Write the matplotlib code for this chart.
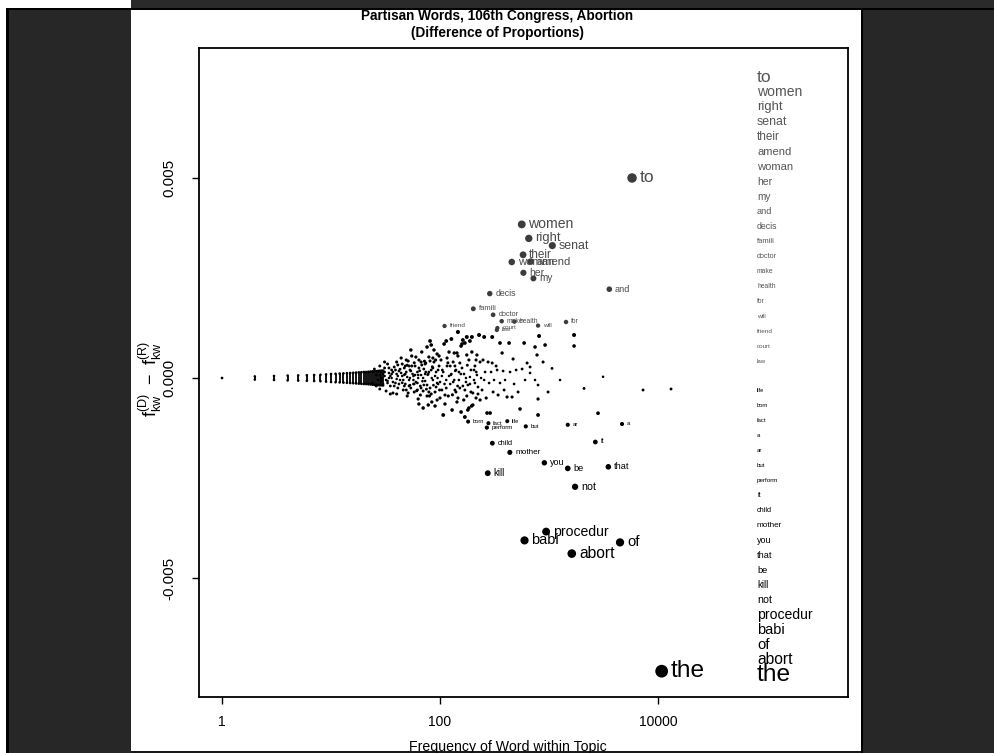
import numpy as np
import matplotlib
matplotlib.use('Agg')
import matplotlib.pyplot as plt
from matplotlib.patches import Rectangle
from matplotlib.ticker import NullLocator

# words leaning Democratic (f_D - f_R > 0), labelled
dem_words = ['to', 'women', 'right', 'senat', 'their', 'amend', 'woman', 'her', 'my', 'and',
             'decis', 'famili', 'doctor', 'make', 'health', 'for', 'will', 'friend', 'court', 'law']
dem_freq = [5774, 562, 652, 1072, 578, 680, 455, 582, 719, 3574,
            286, 202, 307, 368, 481, 1432, 793, 110, 336, 332]
dem_diff = [0.00500, 0.00384, 0.00349, 0.00331, 0.00308, 0.00291, 0.00290, 0.00263, 0.00249, 0.00222,
            0.00211, 0.00173, 0.00158, 0.00142, 0.00141, 0.00140, 0.00131, 0.00130, 0.00125, 0.00120]

# words leaning Republican, labelled
rep_words = ['life', 'born', 'fact', 'a', 'ar', 'but', 'perform', 'it', 'child', 'mother',
             'you', 'that', 'be', 'kill', 'not', 'procedur', 'babi', 'of', 'abort', 'the']
rep_freq = [414, 181, 278, 4674, 1485, 612, 269, 2659, 302, 437,
            906, 3500, 1485, 274, 1733, 940, 596, 4480, 1617, 10800]
rep_diff = [-0.00108, -0.00109, -0.00113, -0.00115, -0.00117, -0.00121, -0.00124, -0.00160, -0.00163, -0.00186,
            -0.00212, -0.00222, -0.00226, -0.00238, -0.00272, -0.00384, -0.00406, -0.00411, -0.00439, -0.00733]

# rare words: for each count, range of observed differences
bar_freq = list(range(1, 31))
bar_lo = [0, -4e-5, -5e-5, -6e-5, -6.5e-5, -7e-5, -7.5e-5, -8e-5, -9e-5, -1e-4,
          -1.05e-4, -1.1e-4, -1.15e-4, -1.2e-4, -1.25e-4, -1.3e-4, -1.35e-4, -1.4e-4, -1.45e-4, -1.5e-4,
          -1.5e-4, -1.55e-4, -1.6e-4, -1.65e-4, -1.7e-4, -1.7e-4, -1.75e-4, -1.8e-4, -1.8e-4, -1.85e-4]
bar_hi = [0, 4e-5, 5e-5, 6e-5, 6.5e-5, 7e-5, 7.5e-5, 8e-5, 9e-5, 1e-4,
          1.05e-4, 1.1e-4, 1.15e-4, 1.2e-4, 1.25e-4, 1.3e-4, 1.35e-4, 1.4e-4, 1.45e-4, 1.5e-4,
          1.5e-4, 1.55e-4, 1.6e-4, 1.65e-4, 1.7e-4, 1.7e-4, 1.75e-4, 1.8e-4, 1.8e-4, 1.85e-4]

# unlabelled words (frequency, difference)
cloud_freq = [24, 24, 25, 26, 26, 27, 28, 28, 29, 29, 30, 31, 31, 32, 33, 33, 34, 35, 36, 36,
              37, 38, 39, 40, 40, 41, 42, 43, 31, 35, 40, 41,
              28, 29, 31, 33, 34, 36, 37, 39, 40, 42, 44, 46, 48, 50, 52, 54, 57, 59, 62, 64,
              67, 70, 73, 76, 79, 83, 86, 90, 94, 98, 104, 114, 124, 135, 140, 159, 180, 205, 223, 254,
              44, 45, 46, 47, 48, 49, 50, 51, 52, 53, 54, 55, 57, 58, 59, 60, 62, 63, 64, 66,
              67, 68, 70, 71, 73, 74, 76, 78, 79, 81, 83, 84, 86, 88, 90, 92, 94, 96, 98, 100,
              45, 47, 49, 51, 53, 55, 58, 60, 63, 66, 68, 71, 74, 78, 81, 84, 88, 92, 96, 100,
              48, 52, 57, 62, 67, 73, 79, 86, 94, 54, 64, 76, 90, 70, 83,
              102, 104, 107, 109, 111, 114, 116, 119, 121, 124, 127, 129, 132, 135, 137, 140, 143, 146, 146, 149,
              152, 152, 156, 159, 162, 166, 169, 169, 169, 173, 176, 180, 184, 188, 192, 196, 196, 200, 205, 209,
              214, 218, 223, 228, 233, 233,
              111, 116, 121, 132, 137, 143, 149, 162, 176, 184, 192, 209, 218, 107, 127, 156, 200, 214, 173, 188,
              146, 81, 114, 176, 188,
              238, 243, 248, 254, 259, 265, 270, 276, 282, 288, 294, 301, 301, 307, 313, 327, 334, 341, 355, 355,
              371, 379, 387, 395, 412, 430, 439, 458, 468, 478, 499, 520, 542, 566, 591, 603, 629, 670, 670, 744,
              744, 776, 793, 793, 793, 810, 882, 920,
              1065, 1697, 1697, 3130, 2095, 7285, 2815, 13160, 1262, 980,
              30, 32, 34, 35, 37, 38, 41, 43, 45, 47, 49, 50, 53, 56, 58, 61, 63, 65, 69, 72,
              75, 77, 80, 85, 87, 91, 95, 99, 105, 110, 118, 126, 130, 138, 145, 155, 165, 178, 195, 215]
cloud_diff = [0.00015, -0.000125, 0.000225, -0.0002, 0.000075, -0.00005, 0.0003, -0.000275, 0.00015, 0.0,
              -0.00015, 0.00025, 0.00005, -0.000325, 0.00035, -0.000075, 0.000125, -0.0002, 0.0002, 0.0,
              -0.000375, 0.000275, -0.000125, 0.0001, 0.0004, -0.00025, 0.000175, -0.00005, 0.0004, -0.0004,
              -0.0004, 0.000325,
              0.000075, -0.000075, 0.00015, -0.000125, 0.0, 0.0001, -0.0001, 0.0002, -0.000025, -0.00015,
              0.000125, -0.00005, 0.0003, 0.000025, -0.0002, 0.000175, -0.00005, 0.000075, -0.000125, 0.00025,
              -0.00025, 0.0, 0.00035, -0.000175, 0.00015, -0.0004, 0.0005, 0.00005, -0.000125, 0.00055,
              0.00005, -0.00025, 0.0003, -0.00005, -0.00035, 0.00025, -0.000175, 0.0002, -0.0004, -0.00005,
              0.0005, 0.00005, -0.0003, 0.00025, -0.00015, 0.00015, -0.00045, 0.000425, -0.00005, 0.0002,
              -0.00025, 0.00055, 0.00005, -0.00035, 0.0003, -0.0001, 0.00015, -0.000525, 0.00045, -0.0002,
              0.000075, 0.00065, -0.000325, 0.000225, -0.000075, 0.000375, -0.00045, 0.0001, 0.000525, -0.00025,
              0.0002, -0.0006, -0.00005, 0.0004, -0.00035, 0.00015, 0.0006, -0.00015, 0.0003, -0.0005,
              0.00035, -0.0002, 0.00045, -0.000375, 0.0, 0.0003, -0.00015, 0.000525, 0.000075, -0.000425,
              0.000325, -0.000175, 0.00015, -0.000675, 0.000425, 0.0, 0.0007, -0.000225, 0.0002, -0.0001,
              0.0001, 0.0003, -0.00015, -0.0003, 0.0004, 0.0001, -0.00035, 0.00025, -0.00055, 0.0007,
              -0.00065, 0.000775, -0.0007, -0.00075, 0.000825,
              0.00045, -0.0003, 0.00015, 0.00085, -0.00065, -0.00005, 0.0003, -0.00045, 0.00065, -0.00015,
              0.0001, -0.0008, 0.0004, 0.000625, -0.0003, 0.0002, 0.000625, 0.00055, -0.0005, -0.00005,
              0.000375, -0.00025, 0.0008, 0.00085, 0.00095, 0.0001, 0.000875, -0.0003, -0.000975, 0.0,
              -0.00045, -0.0008, 0.00045, -0.00015, 0.0002, 0.00065, 0.001025, -0.000375, -0.00005, 0.0003,
              -0.0005, 0.000075, -0.000225, 0.001075, 0.0004, -0.00055,
              -0.000425, 0.0005, 0.00005, -0.0001, 0.0003, -0.0006, 0.00015, -0.0002, 0.000575, -0.00075,
              -0.00035, -0.000125, 0.000575, -0.000925, 0.000975, -0.00085, -0.000675, 0.00045, -0.0001, 0.000025,
              0.00115, 0.000925, 0.000925, 0.001025, 0.000925,
              0.0, -0.0003, 0.00045, 0.001025, 0.00015, -0.0005, -0.000875, 0.0004, -0.000125, -0.000875,
              0.00015, 0.001025, 0.000375, -0.00035, -0.00005, 0.0003, 0.0002, -0.000425, 0.000875, -0.000125,
              0.000625, 0.000175, -0.0003, -0.00005, -0.000475, 0.000875, 0.00015, -0.000475, 0.000475, -0.00015,
              0.0002, -0.00035, -0.000775, 0.000225, 0.000875, -0.00005, 0.000375, 0.000275, 0.000125, 0.000775,
              -0.00005, 0.000575, -0.000175, -0.000525, -0.000925, 0.00105, 0.0004, 0.000825,
              0.00024, 0.001075, 0.0008, 0.00003, -0.00026, -0.0003, -0.00088, -0.000275, -0.00005, -0.00035,
              0.0001, -0.00005, 0.00025, 0.00005, 0.00015, -0.0002, 0.00005, 0.00022, -0.00012, 0.00008,
              -0.0003, 0.00032, -0.00018, 0.0001, 0.00038, -0.00032, 0.0, 0.00018, -0.00008, 0.00042,
              -0.00028, 0.00008, -0.00045, 0.00028, -0.00018, 0.00045, 0.0, -0.0003, 0.0002, -0.00015,
              0.00038, 0.00008, -0.00042, 0.00018, -0.0002, 0.0001, -0.00055, 0.00032, -0.0007, 0.00015]

plt.rcParams['font.family'] = ['Liberation Sans', 'DejaVu Sans']
plt.rcParams['mathtext.fontset'] = 'custom'
plt.rcParams['mathtext.rm'] = 'Liberation Sans'


def dot_px(d):
    return 1400 * np.abs(np.asarray(d)) + 2.5


def dot_size(d):
    return (dot_px(d) * 0.72) ** 2


def label_pt(d):
    return (3000 * abs(d) + 2.5) * 0.72


W, H = 995, 753
fig = plt.figure(figsize=(W / 100, H / 100), dpi=100)
fig.patch.set_facecolor('white')


def px_rect(x0, y0, x1, y1, color):
    fig.add_artist(Rectangle((x0 / W, 1 - y1 / H), (x1 - x0) / W, (y1 - y0) / H,
                             transform=fig.transFigure, facecolor=color, edgecolor='none', zorder=-5))


# screenshot frame
px_rect(131, 0, W, 8, '#2a2a2a')
px_rect(6, 8, W, 10, '#000000')
px_rect(6, 8, 9, H, '#000000')
px_rect(9, 10, 131, H, '#272727')
px_rect(861, 10, 863, H, '#000000')
px_rect(863, 10, W, H, '#272727')
px_rect(131, H - 2, 861, H, '#1a1a1a')

ax = fig.add_axes([199 / W, 1 - 697 / H, 649 / W, 649 / H])
ax.set_xscale('log')
ax.set_xlim(0.615, 553000)
ax.set_ylim(-0.007975, 0.00825)

# rare words as stacks
ax.vlines(bar_freq, bar_lo, bar_hi, colors='black', lw=1.3)
ax.scatter(bar_freq + bar_freq, bar_lo + bar_hi, s=dot_size(bar_lo + bar_hi), c='black', lw=0)

ax.scatter(cloud_freq, cloud_diff, s=dot_size(cloud_diff), c='black', lw=0)

ax.scatter(dem_freq, dem_diff, s=dot_size(dem_diff), c='#3c3c3c', lw=0, zorder=3)
ax.scatter(rep_freq, rep_diff, s=dot_size(rep_diff), c='black', lw=0, zorder=3)

for words, fr, df, col in [(dem_words, dem_freq, dem_diff, '#4a4a4a'),
                           (rep_words, rep_freq, rep_diff, 'black')]:
    for w, f, d in zip(words, fr, df):
        r_pt = dot_px(d) * 0.72 / 2
        ax.annotate(w, (f, d), xytext=(r_pt + 2, 0), textcoords='offset points',
                    ha='left', va='center', fontsize=label_pt(d), color=col, zorder=4)

# ranked word column at right
col_y = np.linspace(0.00752, -0.00742, 41)
for i, (w, d) in enumerate(zip(dem_words, dem_diff)):
    ax.text(80900, col_y[i], w, ha='left', va='center', fontsize=label_pt(d), color='#555555')
for i, (w, d) in enumerate(zip(rep_words, rep_diff)):
    ax.text(80900, col_y[21 + i], w, ha='left', va='center', fontsize=label_pt(d), color='black')

ax.set_xticks([1, 100, 10000])
ax.set_xticklabels(['1', '100', '10000'])
ax.xaxis.set_minor_locator(NullLocator())
ax.set_yticks([-0.005, 0.0, 0.005])
ax.set_yticklabels(['-0.005', '0.000', '0.005'], rotation=90, va='center')
ax.tick_params(axis='x', length=5, width=1, pad=8, labelsize=10)
ax.tick_params(axis='y', length=5, width=1, pad=11, labelsize=11)
for s in ax.spines.values():
    s.set_linewidth(1.3)

fig.text(497 / W, 1 - 16 / H, 'Partisan Words, 106th Congress, Abortion', ha='center', va='center',
         fontsize=9.8, fontweight='bold')
fig.text(497 / W, 1 - 33 / H, '(Difference of Proportions)', ha='center', va='center',
         fontsize=9.8, fontweight='bold')
fig.text(150 / W, 1 - 379 / H,
         r'$\mathrm{f}_{\mathrm{kw}}^{(\mathrm{D})}\ -\ \mathrm{f}_{\mathrm{kw}}^{(\mathrm{R})}$',
         rotation=90, ha='center', va='center', fontsize=13)
fig.text(508 / W, 1 - 740 / H, 'Frequency of Word within Topic', ha='center', va='top', fontsize=10.2)

fig.savefig('out.png', dpi=100)
